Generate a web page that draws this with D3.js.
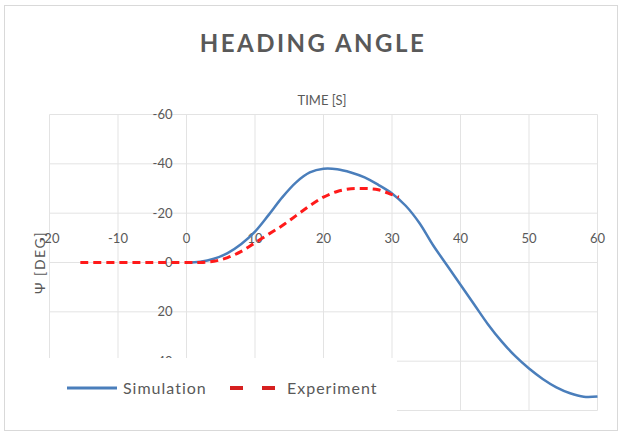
<!DOCTYPE html>
<html>
<head>
<meta charset="utf-8">
<script src="https://cdn.jsdelivr.net/npm/d3@7/dist/d3.min.js"></script>
<style>
  body { margin: 0; background: #fff; }
  text { font-family: Lato, "Open Sans", sans-serif; fill: #595959; }
</style>
</head>
<body>
<div id="chart"></div>
<script>
const width = 622;
const height = 434;

// time [s] and heading angle [deg]
const simTime = [0, 2, 4, 6, 8, 10, 12, 14, 16, 18, 20, 22, 24, 26, 28, 30, 32, 34, 36, 38, 40, 42, 44, 46, 48, 50, 52, 54, 56, 58, 60];
const simPsi = [0, -0.3, -1.5, -3.8, -7.5, -12.5, -19.3, -26.5, -32.5, -36.5, -38, -37.8, -36.5, -34.5, -31.5, -28, -23, -16, -7, 1, 9, 17, 25, 32, 38, 43, 47.2, 50.6, 53, 54.4, 54.3];
const expTime = [-15.5, -10, -5, 0, 2, 4, 6, 8, 10, 12, 14, 16, 18, 20, 22, 24, 26, 28, 30, 31];
const expPsi = [0, 0, 0, 0, 0, -0.5, -2, -4.5, -8, -11.5, -15, -19, -23, -26.5, -28.8, -29.9, -30, -29.5, -27.5, -26.5];
const xTicks = [-20, -10, 0, 10, 20, 30, 40, 50, 60];
const yTicks = [-60, -40, -20, 0, 20, 40, 60];
const seriesNames = ["Simulation", "Experiment"];

const svg = d3.select("#chart").append("svg")
  .attr("width", width)
  .attr("height", height);

// chart frame
svg.append("rect")
  .attr("x", 4.5).attr("y", 5.5)
  .attr("width", 613).attr("height", 425)
  .attr("fill", "#fff")
  .attr("stroke", "#d9d9d9");

const x = d3.scaleLinear().domain([-20, 60]).range([49.5, 597.5]);
const y = d3.scaleLinear().domain([-60, 60]).range([114.5, 410.5]);

// grid
let g = svg.append("g");
g.selectAll(".vgrid")
  .data(xTicks)
  .enter().append("line")
  .attr("x1", d => x(d)).attr("x2", d => x(d))
  .attr("y1", y(-60)).attr("y2", y(60))
  .attr("stroke", "#e3e3e3");
g.selectAll(".hgrid")
  .data(yTicks)
  .enter().append("line")
  .attr("x1", x(-20)).attr("x2", x(60))
  .attr("y1", d => y(d)).attr("y2", d => y(d))
  .attr("stroke", "#e3e3e3");

// tick labels (axes cross at 0)
g.selectAll(".xlab")
  .data(xTicks)
  .enter().append("text")
  .attr("x", d => x(d))
  .attr("y", y(0) - 24)
  .attr("dy", "0.35em")
  .attr("text-anchor", "middle")
  .style("font-size", "13px")
  .text(d => d);
g.selectAll(".ylab")
  .data(yTicks)
  .enter().append("text")
  .attr("x", x(0) - 14)
  .attr("y", d => y(d))
  .attr("dy", "0.35em")
  .attr("text-anchor", "end")
  .style("font-size", "13px")
  .text(d => d);

// series
const line = d3.line()
  .x(d => x(d[0]))
  .y(d => y(d[1]))
  .curve(d3.curveCatmullRom.alpha(0.5));

const simData = simTime.map((t, i) => [t, simPsi[i]]);
const expData = expTime.map((t, i) => [t, expPsi[i]]);

svg.append("path")
  .datum(simData)
  .attr("d", line)
  .attr("fill", "none")
  .attr("stroke", "#4a7ebb")
  .attr("stroke-width", 2.5);

svg.append("path")
  .datum(expData)
  .attr("d", line)
  .attr("fill", "none")
  .attr("stroke", "#ff1a1a")
  .attr("stroke-width", 3)
  .attr("stroke-dasharray", "8,5");

// titles
svg.append("text")
  .attr("x", 313).attr("y", 52)
  .attr("text-anchor", "middle")
  .style("font-size", "24px")
  .style("font-weight", "bold")
  .style("letter-spacing", "2.5px")
  .text("HEADING ANGLE");

svg.append("text")
  .attr("x", 322).attr("y", 100)
  .attr("dy", "0.35em")
  .attr("text-anchor", "middle")
  .style("font-size", "13px")
  .text("TIME [S]");

svg.append("text")
  .attr("transform", `translate(40,${y(0)}) rotate(-90)`)
  .attr("dy", "0.35em")
  .attr("text-anchor", "middle")
  .style("font-size", "14px")
  .style("letter-spacing", "1.5px")
  .text("Ψ [DEG]");

// legend box (white, covers the lower left of the plot)
let gLegend = svg.append("g");
gLegend.append("rect")
  .attr("x", 5).attr("y", 358)
  .attr("width", 392).attr("height", 72)
  .attr("fill", "#fff");

gLegend.append("line")
  .attr("x1", 67).attr("x2", 117)
  .attr("y1", 388).attr("y2", 388)
  .attr("stroke", "#4a7ebb")
  .attr("stroke-width", 3);
gLegend.append("text")
  .attr("x", 123).attr("y", 388)
  .attr("dy", "0.35em")
  .style("font-size", "16px")
  .style("letter-spacing", "1px")
  .text(seriesNames[0]);

gLegend.append("line")
  .attr("x1", 230).attr("x2", 276)
  .attr("y1", 388).attr("y2", 388)
  .attr("stroke", "#d62020")
  .attr("stroke-width", 4)
  .attr("stroke-dasharray", "13,19");
gLegend.append("text")
  .attr("x", 287).attr("y", 388)
  .attr("dy", "0.35em")
  .style("font-size", "16px")
  .style("letter-spacing", "1px")
  .text(seriesNames[1]);
</script>
</body>
</html>
